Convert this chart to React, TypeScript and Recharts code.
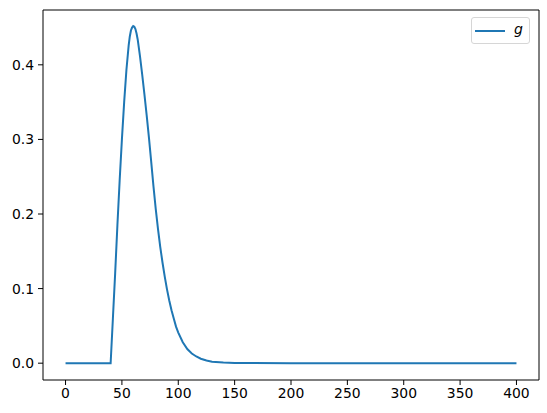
import React from 'react'
import { LineChart, Line, XAxis, YAxis, Legend, ReferenceLine } from 'recharts'

// x positions and readings of g, taken off the reference plot
const xValues = [
  0, 10, 20, 30, 40, 42, 44, 46, 48, 50, 52, 54, 56, 57, 58, 59, 60, 61, 62, 63,
  64, 66, 68, 70, 72, 74, 76, 78, 80, 82, 84, 86, 88, 90, 92, 94, 96, 98, 100,
  104, 108, 112, 116, 120, 125, 130, 140, 150, 160, 200, 250, 300, 350, 400,
]
const gValues = [
  0, 0, 0, 0, 0, 0.06, 0.12, 0.185, 0.245, 0.3, 0.35, 0.393, 0.426, 0.438, 0.446,
  0.45, 0.452, 0.451, 0.448, 0.442, 0.434, 0.412, 0.387, 0.36, 0.332, 0.302,
  0.27, 0.237, 0.207, 0.18, 0.156, 0.135, 0.116, 0.099, 0.084, 0.071, 0.06,
  0.049, 0.041, 0.028, 0.019, 0.013, 0.009, 0.006, 0.0035, 0.002, 0.0008, 0.0003,
  0.0001, 0, 0, 0, 0, 0,
]
const xTicks = [0, 50, 100, 150, 200, 250, 300, 350, 400]
const yTicks = [0, 0.1, 0.2, 0.3, 0.4]
const xDomain = [-20, 420]
const yDomain = [-0.02255, 0.4735]

const data = xValues.map((x, i) => ({ x, g: gValues[i] }))

const FONT = '"DejaVu Sans", sans-serif'
const BLUE = '#1f77b4'
const tickStyle = { fill: '#000', fontSize: 13.9, fontFamily: FONT }

const LegendBox = () => (
  <div
    style={{
      width: 57,
      height: 25,
      border: '1px solid #d6d6d6',
      borderRadius: 3,
      background: '#fff',
      display: 'flex',
      alignItems: 'center',
      boxSizing: 'content-box',
    }}
  >
    <svg width={36} height={10} style={{ display: 'block' }}>
      <line x1={3} y1={5} x2={33} y2={5} stroke={BLUE} strokeWidth={2} />
    </svg>
    <span
      style={{
        fontFamily: FONT,
        fontStyle: 'italic',
        fontSize: 14,
        marginLeft: 6,
        lineHeight: '14px',
        marginTop: -3,
      }}
    >
      g
    </span>
  </div>
)

export default function App() {
  return (
    <div style={{ width: 547, height: 413, background: '#fff' }}>
      <style>{'body{margin:0}'}</style>
      <LineChart
        width={547}
        height={413}
        data={data}
        margin={{ top: 10, right: 8, bottom: 0, left: 0 }}
      >
        <XAxis
          dataKey="x"
          type="number"
          domain={xDomain}
          ticks={xTicks}
          height={33}
          tickSize={5}
          tickMargin={3}
          tick={tickStyle}
          stroke="#000"
          allowDataOverflow
        />
        <YAxis
          type="number"
          domain={yDomain}
          ticks={yTicks}
          width={43}
          tickSize={5}
          tickMargin={4}
          tick={tickStyle}
          tickFormatter={(v: number) => v.toFixed(1)}
          stroke="#000"
          allowDataOverflow
        />
        {/* top and right spines of the frame */}
        <ReferenceLine y={yDomain[1]} stroke="#000" strokeWidth={1} />
        <ReferenceLine x={xDomain[1]} stroke="#000" strokeWidth={1} />
        <Legend
          layout="vertical"
          align="center"
          verticalAlign="middle"
          wrapperStyle={{ top: 17, left: 471 }}
          content={() => <LegendBox />}
        />
        <Line
          type="linear"
          dataKey="g"
          stroke={BLUE}
          strokeWidth={2}
          dot={false}
          isAnimationActive={false}
        />
      </LineChart>
    </div>
  )
}
